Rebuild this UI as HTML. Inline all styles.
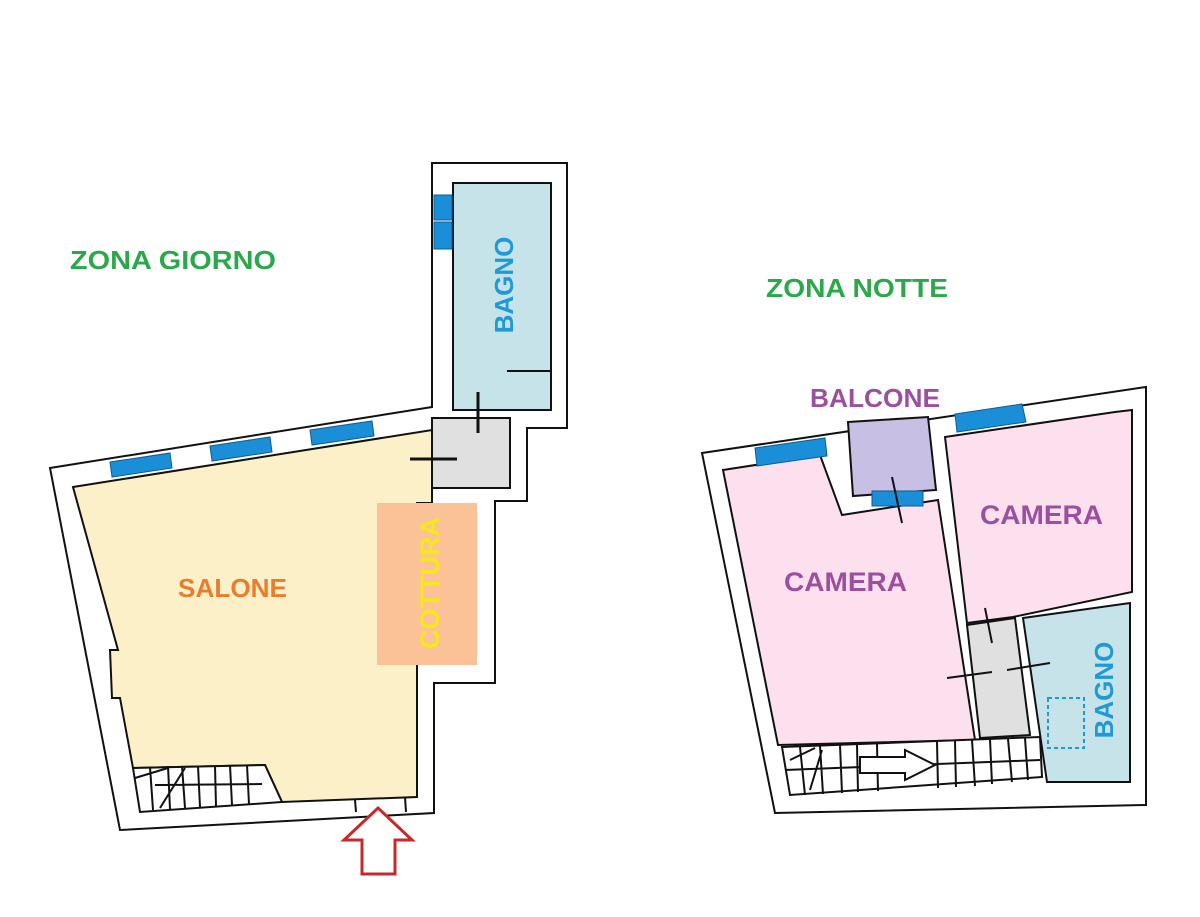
<!DOCTYPE html>
<html><head><meta charset="utf-8"><style>
html,body{margin:0;padding:0;background:#fff;}
svg{display:block;}
text{font-family:"Liberation Sans",sans-serif;font-weight:bold;}
</style></head><body>
<svg width="1200" height="917" viewBox="0 0 1200 917" xmlns="http://www.w3.org/2000/svg">
<rect width="1200" height="917" fill="#fff"/>
<g stroke="#111" stroke-width="2" fill="none" stroke-linejoin="miter">
<path d="M50,468 L432,407 L432,163 L567,163 L567,428 L527,428 L527,501 L495,501 L495,683 L434,683 L434,813 L120,830 Z" fill="#fff"/>
<path d="M73,487 L432,430 L432,503 L417,503 L417,797 L282,802 L265,765 L133,768 L120,698 L112,698 L110,650 L118,650 Z" fill="#fcf0c9" stroke="#111"/>
<path d="M133,768 L265,765 L282,802 L140,812 Z" fill="#fff"/>
<path d="M150,767 L153,810 M168,766 L170,809 M182,766 L185,808 M198,766 L200,807 M215,766 L216,806 M230,765 L232,805 M247,765 L249,804 M155,785 L262,784 M135,778 L168,768 M160,808 L185,768"/>
<path d="M355,800 L356,812 M405,797 L406,812"/>
<path d="M432,418 L510,418 L510,488 L432,488 Z" fill="#e0e0e0"/>
<rect x="453" y="183" width="98" height="227" fill="#c7e3ea"/>
<path d="M507,371 L551,371"/>
</g>
<rect x="377" y="503" width="100" height="162" fill="#fbc197"/>

<!-- RIGHT PLAN -->
<g stroke="#111" stroke-width="2" fill="none">
<path d="M702,453 L1146,387 L1146,805 L775,813 Z" fill="#fff"/>
<path d="M723,470 L820,455 L842,515 L938,500 L975,740 L778,745 Z" fill="#fde0ee"/>
<path d="M848,422 L928,417 L936,490 L853,496 Z" fill="#c8bfe4"/>
<path d="M945,437 L1115,412 L1132,410 L1132,592 L1013,617 L967,623 Z" fill="#fde0ee"/>
<path d="M967,625 L1015,618 L1030,735 L980,738 Z" fill="#e0e0e0"/>
<path d="M1023,618 L1130,603 L1130,782 L1047,782 Z" fill="#c7e3ea"/>
<path d="M782,747 L1040,737 L1042,777 L790,795 Z" fill="#fff"/>
<path d="M800,747 L805,795 M820,746 L823,794 M840,745 L842,793 M857,745 L858,792 M877,744 L878,791 M937,742 L938,788 M955,741 L956,787 M972,740 L975,786 M990,739 L992,784 M1008,739 L1012,782 M1025,738 L1028,780 M785,770 L1040,760 M790,760 L815,748 M810,790 L822,750"/>
</g>

<!-- windows -->
<g fill="#1a8fd8" stroke="#0d5d93" stroke-width="1">
<polygon points="110,462 170,453 172,468 112,477"/>
<polygon points="210,446 270,437 272,452 212,461"/>
<polygon points="310,430 372,421 374,436 312,445"/>
<rect x="434" y="195" width="18" height="25"/>
<rect x="434" y="222" width="18" height="27"/>
<polygon points="755,448 825,438 827,456 757,466"/>
<rect x="872" y="491" width="51" height="15"/>
<polygon points="955,414 1022,404 1026,422 957,432"/>
</g>
<g stroke="#111" stroke-width="2" fill="none">
<path d="M892,477 L902,523 M985,608 L992,643 M947,678 L992,672 M1007,670 L1050,663"/>
</g>
<g stroke="#111" stroke-width="3">
<path d="M478,392 L478,433"/>
<path d="M410,459 L457,459"/>
</g>
<polygon points="378,808 412,840 395,840 395,874 362,874 362,840 344,840" fill="#fff" stroke="#c8282a" stroke-width="3"/>
<polygon points="860,757 905,757 905,750 935,765 905,780 905,773 860,773" fill="#fff" stroke="#111" stroke-width="2"/>
<rect x="1048" y="698" width="36" height="50" fill="none" stroke="#1e9ad6" stroke-width="2" stroke-dasharray="4,3"/>

<!-- TEXT -->
<text x="70" y="269" font-size="26" fill="#2aa84a" textLength="206" lengthAdjust="spacingAndGlyphs">ZONA GIORNO</text>
<text x="766" y="297" font-size="26" fill="#2aa84a" textLength="182" lengthAdjust="spacingAndGlyphs">ZONA NOTTE</text>
<text x="178" y="597" font-size="26" fill="#e87d2e" textLength="109" lengthAdjust="spacingAndGlyphs">SALONE</text>
<text transform="translate(439,583) rotate(-90)" font-size="27" fill="#f6e81a" text-anchor="middle">COTTURA</text>
<text transform="translate(513,285) rotate(-90)" font-size="26" fill="#1e9ad6" text-anchor="middle">BAGNO</text>
<text x="810" y="407" font-size="26" fill="#9b4f9e" textLength="130" lengthAdjust="spacingAndGlyphs">BALCONE</text>
<text x="784" y="591" font-size="27" fill="#9b4f9e" textLength="123" lengthAdjust="spacingAndGlyphs">CAMERA</text>
<text x="980" y="524" font-size="27" fill="#9b4f9e" textLength="123" lengthAdjust="spacingAndGlyphs">CAMERA</text>
<text transform="translate(1113,690) rotate(-90)" font-size="26" fill="#1e9ad6" text-anchor="middle">BAGNO</text>
</svg>
</body></html>
